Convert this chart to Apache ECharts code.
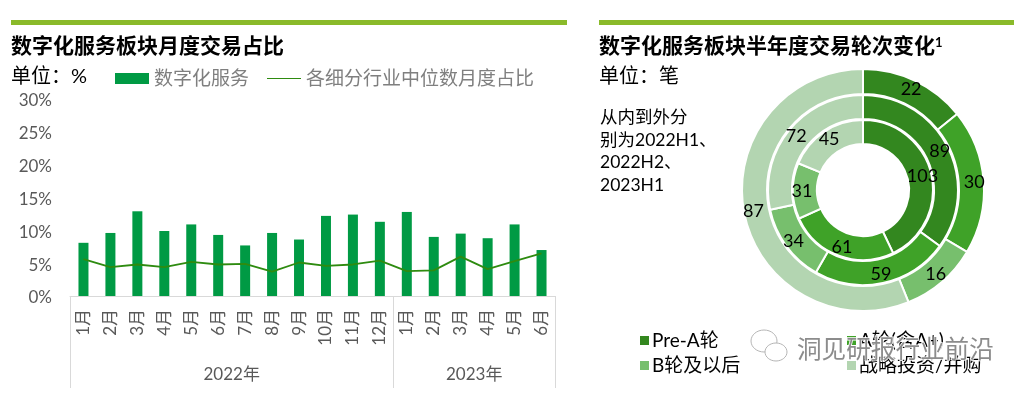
<!DOCTYPE html>
<html>
<head>
<meta charset="utf-8">
<style>
  html, body { margin: 0; padding: 0; background: #fff; }
  #main { width: 1028px; height: 394px; }
</style>
<script src="https://cdn.jsdelivr.net/npm/echarts@6/dist/echarts.min.js"></script>
</head>
<body>
<div id="main"></div>
<script>
"use strict";
var FONT = 'Lato, "Noto Sans CJK SC", sans-serif';

//左图数据
var months = ["1月","2月","3月","4月","5月","6月","7月","8月","9月","10月","11月","12月","1月","2月","3月","4月","5月","6月"];
var digitalShare = [8.1,9.6,12.9,9.9,10.9,9.3,7.7,9.6,8.6,12.2,12.4,11.3,12.8,9.0,9.5,8.8,10.9,7.0];
var medianShare = [5.6,4.4,4.8,4.4,5.2,4.8,4.9,3.7,5.1,4.6,4.8,5.4,3.8,3.9,6.0,4.1,5.3,6.5];
var years = ["2022年","2023年"];
var yearEdges = [0,12,18];
var yearCenters = [6,15];

//右图数据，从内到外
var rounds = ["Pre-A轮","A轮(含A+)","B轮及以后","战略投资/并购"];
var roundColors = ["#33871f","#3fa228","#77bf6d","#b3d5b1"];
var h1of2022 = [103,61,31,45];
var h2of2022 = [89,59,34,72];
var h1of2023 = [22,30,16,87];

function ring(values, radius) {
  return {
    type: "pie",
    center: [863, 190],
    radius: radius,
    startAngle: 90,
    clockwise: true,
    silent: true,
    label: { show: true, position: "inside", formatter: "{c}", color: "#000", fontSize: 18, fontFamily: FONT },
    labelLine: { show: false },
    itemStyle: { borderColor: "#fff", borderWidth: 2 },
    data: values.map(function (v, i) {
      return { name: rounds[i], value: v, itemStyle: { color: roundColors[i] } };
    })
  };
}

var myChart = echarts.init(document.getElementById("main"));
myChart.setOption({
  animation: false,
  textStyle: { fontFamily: FONT },
  legend: [
    {
      left: 110, top: 64, itemGap: 18, itemWidth: 34, itemHeight: 11,
      lineStyle: { width: 1.5, color: "#2e8b10" },
      textStyle: { color: "#7f7f7f", fontSize: 19, fontFamily: FONT },
      data: [
        { name: "数字化服务", icon: "rect" },
        { name: "各细分行业中位数月度占比", icon: "path://M0,0H34V1H0Z" }
      ]
    },
    {
      left: 633, top: 326, orient: "vertical", itemGap: 6, itemWidth: 11, itemHeight: 11,
      textStyle: { color: "#000", fontSize: 19, fontFamily: FONT, padding: [0, 0, 0, -3] },
      data: [{ name: rounds[0], icon: "rect" }, { name: rounds[2], icon: "rect" }]
    },
    {
      left: 840, top: 326, orient: "vertical", itemGap: 6, itemWidth: 11, itemHeight: 11,
      textStyle: { color: "#000", fontSize: 19, fontFamily: FONT, padding: [0, 0, 0, -3] },
      data: [{ name: rounds[1], icon: "rect" }, { name: rounds[3], icon: "rect" }]
    }
  ],
  grid: { left: 70, right: 473, top: 99, bottom: 98 },
  xAxis: [
    {
      type: "category",
      data: months,
      axisLine: { lineStyle: { color: "#d9d9d9" } },
      axisTick: { show: false },
      axisLabel: { rotate: 90, interval: 0, color: "#595959", fontSize: 17, margin: 13, fontFamily: FONT }
    },
    {
      //年份分组，刻度线当分隔线用
      type: "value",
      position: "bottom",
      min: 0,
      max: 18,
      axisLine: { show: false },
      splitLine: { show: false },
      axisTick: {
        show: true,
        length: 92,
        customValues: yearEdges,
        lineStyle: { color: "#d9d9d9" }
      },
      axisLabel: {
        customValues: yearCenters,
        margin: 70,
        color: "#595959",
        fontSize: 17,
        fontFamily: FONT,
        formatter: function (v) {
          return years[yearCenters.indexOf(v)];
        }
      }
    }
  ],
  yAxis: {
    type: "value",
    min: 0,
    max: 30,
    interval: 5,
    axisLine: { show: false },
    axisTick: { show: false },
    splitLine: { show: false },
    axisLabel: {
      margin: 18,
      formatter: "{v|{value}%}",
      rich: { v: { color: "#595959", fontSize: 17, fontFamily: FONT, padding: [4, 0, 0, 0] } }
    }
  },
  series: [
    {
      name: "数字化服务",
      type: "bar",
      barWidth: 10,
      itemStyle: { color: "#009a44" },
      data: digitalShare
    },
    {
      name: "各细分行业中位数月度占比",
      type: "line",
      symbol: "none",
      lineStyle: { color: "#2e8b10", width: 1.8 },
      itemStyle: { color: "#2e8b10" },
      data: medianShare
    },
    ring(h1of2022, [46, 70]),
    ring(h2of2022, [71, 95]),
    ring(h1of2023, [96, 121])
  ],
  graphic: [
    { type: "rect", shape: { x: 11, y: 20, width: 556, height: 5 }, style: { fill: "#8aba2a" } },
    { type: "rect", shape: { x: 599, y: 20, width: 415, height: 5 }, style: { fill: "#8aba2a" } },
    { type: "text", x: 11, y: 36, style: { text: "数字化服务板块月度交易占比", font: "bold 21px " + FONT, fill: "#000" } },
    {
      type: "text", x: 599, y: 36,
      style: {
        text: "数字化服务板块半年度交易轮次变化{s|1}",
        font: "bold 21px " + FONT,
        fill: "#000",
        rich: { s: { fontSize: 13, fontWeight: "bold", verticalAlign: "top", fontFamily: FONT } }
      }
    },
    { type: "text", x: 11, y: 67, style: { text: "单位：%", font: "20px " + FONT, fill: "#000" } },
    { type: "text", x: 599, y: 67, style: { text: "单位：笔", font: "20px " + FONT, fill: "#000" } },
    {
      type: "text", x: 600, y: 106,
      style: {
        text: "从内到外分\n别为2022H1、\n2022H2、\n2023H1",
        font: "17.5px " + FONT,
        lineHeight: 22.6,
        fill: "#000"
      }
    },
    //水印
    {
      type: "ellipse", z: 100,
      shape: { cx: 764, cy: 341, rx: 13, ry: 11 },
      style: { fill: "#fff", stroke: "#b5b5b5", lineWidth: 1 }
    },
    {
      type: "ellipse", z: 100,
      shape: { cx: 776, cy: 352, rx: 11, ry: 9 },
      style: { fill: "#fff", stroke: "#b5b5b5", lineWidth: 1 }
    },
    {
      type: "text", x: 797, y: 338, z: 100,
      style: {
        text: "洞见研报行业前沿",
        font: "24.6px " + FONT,
        fill: "#8c8c8c",
        stroke: "#fff",
        lineWidth: 1.5
      }
    }
  ]
});
</script>
</body>
</html>
